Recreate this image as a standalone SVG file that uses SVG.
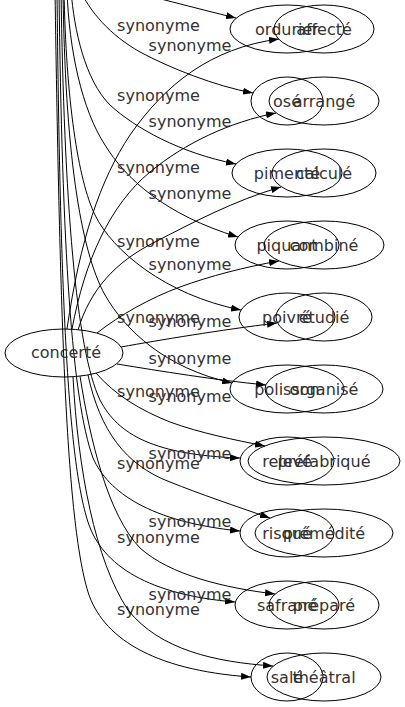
<svg xmlns="http://www.w3.org/2000/svg" width="405" height="707" viewBox="0 0 405 707">
<defs>
<marker id="arr" viewBox="0 0 10 7" refX="10" refY="3.5" markerWidth="10" markerHeight="7" markerUnits="userSpaceOnUse" orient="auto"><path d="M0,0 L10,3.5 L0,7 z" fill="#000"/></marker>
<style>
.e{fill:none;stroke:#000;stroke-width:1;marker-end:url(#arr)}
.n{fill:none;stroke:#000;stroke-width:1}
text{font-family:"DejaVu Sans","Liberation Sans",sans-serif;font-size:16px;fill:#333}
.t{text-anchor:middle}
.la{text-anchor:middle}
</style>
</defs>
<rect width="405" height="707" fill="#fff"/>
<g id="connectors">
<g id="edges-a">
<path class="e" d="M110,-14 C150,-4 195,8 236,18"/>
<path class="e" d="M79,-12 C90,12 110,35 140,52 C170,68 215,86 253,93"/>
<path class="e" d="M71,-10 C74,30 85,80 110,105 C135,128 180,153 236,164"/>
<path class="e" d="M67,-10 C69,50 82,110 105,145 C125,178 165,215 238,237"/>
<path class="e" d="M64,-10 C66,100 78,180 95,215 C112,250 165,295 241,310"/>
<path class="e" d="M63,-10 C65,150 80,250 105,295 C125,330 165,368 232,383"/>
<path class="e" d="M61,-10 C64,200 76,350 100,400 C118,435 155,455 240,458"/>
<path class="e" d="M59,-10 C62,250 72,400 93,458 C108,492 150,522 240,531"/>
<path class="e" d="M57,-10 C60,300 68,460 88,522 C102,566 150,595 235,602"/>
<path class="e" d="M55,-10 C60,320 66,520 88,592 C102,636 150,670 251,677"/>
<text class="la" x="158.5" y="31">synonyme</text>
<text class="la" x="158.5" y="101">synonyme</text>
<text class="la" x="158.5" y="173">synonyme</text>
<text class="la" x="158.5" y="247">synonyme</text>
<text class="la" x="158.5" y="323">synonyme</text>
<text class="la" x="158.5" y="397">synonyme</text>
<text class="la" x="158.5" y="469">synonyme</text>
<text class="la" x="158.5" y="543">synonyme</text>
<text class="la" x="158.5" y="615">synonyme</text>
</g>
<g id="edges-b">
<path class="e" d="M67,329 C80,240 100,180 130,135 C165,85 210,48 279,39"/>
<path class="e" d="M72,329 C85,260 110,205 150,172 C185,143 230,122 276,113"/>
<path class="e" d="M78,330 C90,290 115,262 155,242 C190,224 235,200 281,187"/>
<path class="e" d="M97,333 C120,315 150,298 180,287 C210,276 245,267 279,261"/>
<path class="e" d="M121,347 C160,340 220,330 277,323"/>
<path class="e" d="M117,364 C160,371 215,380 266,385"/>
<path class="e" d="M96,373 C115,395 140,410 170,422 C200,433 235,440 265,446"/>
<path class="e" d="M88,375 C100,430 125,465 170,482 C200,494 235,506 270,518"/>
<path class="e" d="M80,376 C90,440 108,515 140,548 C170,575 225,588 275,594"/>
<path class="e" d="M73,377 C78,470 95,560 128,610 C160,650 215,662 273,666"/>
<text class="la" x="190" y="51">synonyme</text>
<text class="la" x="190" y="127">synonyme</text>
<text class="la" x="190" y="199">synonyme</text>
<text class="la" x="190" y="270">synonyme</text>
<text class="la" x="190" y="327">synonyme</text>
<text class="la" x="190" y="364">synonyme</text>
<text class="la" x="190" y="402">synonyme</text>
<text class="la" x="190" y="459">synonyme</text>
<text class="la" x="190" y="527">synonyme</text>
<text class="la" x="190" y="600">synonyme</text>
</g>
</g>
<g id="node-concerte"><ellipse class="n" cx="64" cy="353" rx="59" ry="24"/><text class="t" x="66" y="358">concerté</text></g>
<g id="node-ordurier"><ellipse class="n" cx="287" cy="29" rx="57" ry="24"/><text class="t" x="287" y="35">ordurier</text></g>
<g id="node-ose"><ellipse class="n" cx="287" cy="101" rx="36" ry="24"/><text class="t" x="287" y="107">osé</text></g>
<g id="node-pimente"><ellipse class="n" cx="287" cy="173" rx="55" ry="24"/><text class="t" x="287" y="179">pimenté</text></g>
<g id="node-piquant"><ellipse class="n" cx="287" cy="245" rx="52" ry="24"/><text class="t" x="287" y="251">piquant</text></g>
<g id="node-poivre"><ellipse class="n" cx="287" cy="317" rx="48" ry="24"/><text class="t" x="287" y="323">poivré</text></g>
<g id="node-polisson"><ellipse class="n" cx="287" cy="389" rx="57" ry="24"/><text class="t" x="287" y="395">polisson</text></g>
<g id="node-releve"><ellipse class="n" cx="287" cy="461" rx="47" ry="24"/><text class="t" x="287" y="467">relevé</text></g>
<g id="node-risque"><ellipse class="n" cx="287" cy="533" rx="47" ry="24"/><text class="t" x="287" y="539">risqué</text></g>
<g id="node-safrane"><ellipse class="n" cx="287" cy="605" rx="52" ry="24"/><text class="t" x="287" y="611">safrané</text></g>
<g id="node-sale"><ellipse class="n" cx="287" cy="677" rx="36" ry="24"/><text class="t" x="287" y="683">salé</text></g>
<g id="node-affecte"><ellipse class="n" cx="324" cy="29" rx="50" ry="24"/><text class="t" x="324" y="35">affecté</text></g>
<g id="node-arrange"><ellipse class="n" cx="324" cy="101" rx="55" ry="24"/><text class="t" x="324" y="107">arrangé</text></g>
<g id="node-calcule"><ellipse class="n" cx="324" cy="173" rx="52" ry="24"/><text class="t" x="324" y="179">calculé</text></g>
<g id="node-combine"><ellipse class="n" cx="324" cy="245" rx="60" ry="24"/><text class="t" x="324" y="251">combiné</text></g>
<g id="node-etudie"><ellipse class="n" cx="324" cy="317" rx="48" ry="24"/><text class="t" x="324" y="323">étudié</text></g>
<g id="node-organise"><ellipse class="n" cx="324" cy="389" rx="59" ry="24"/><text class="t" x="324" y="395">organisé</text></g>
<g id="node-prefabrique"><ellipse class="n" cx="324" cy="461" rx="76" ry="24"/><text class="t" x="324" y="467">préfabriqué</text></g>
<g id="node-premedite"><ellipse class="n" cx="324" cy="533" rx="69" ry="24"/><text class="t" x="324" y="539">prémédité</text></g>
<g id="node-prepare"><ellipse class="n" cx="324" cy="605" rx="55" ry="24"/><text class="t" x="324" y="611">préparé</text></g>
<g id="node-theatral"><ellipse class="n" cx="324" cy="677" rx="57" ry="24"/><text class="t" x="324" y="683">théâtral</text></g>
</svg>
